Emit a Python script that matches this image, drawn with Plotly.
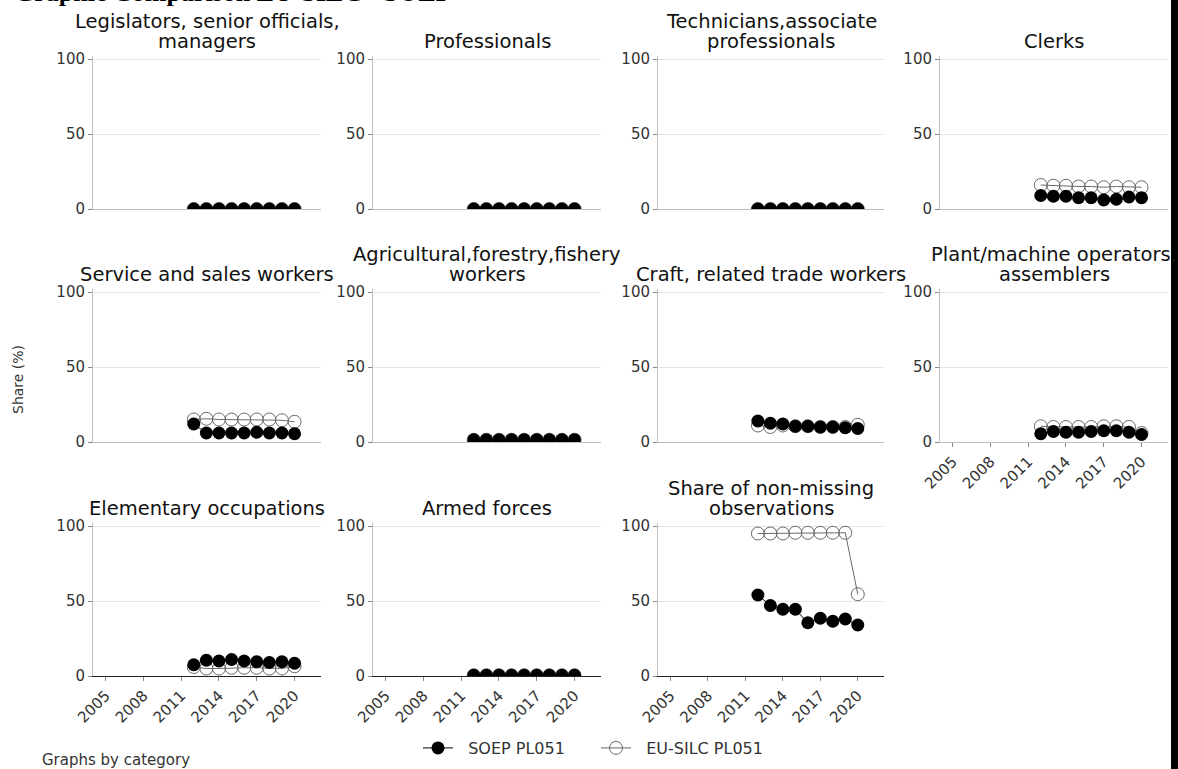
import plotly.graph_objects as go

W, H = 1178, 769

# ---- data (share in %) ----
YEARS = [2012, 2013, 2014, 2015, 2016, 2017, 2018, 2019, 2020]

TITLES = [
    "Legislators, senior officials,<br>managers", "Professionals",
    "Technicians,associate<br>professionals", "Clerks",
    "Service and sales workers", "Agricultural,forestry,fishery<br>workers",
    "Craft, related trade workers", "Plant/machine operators,<br>assemblers",
    "Elementary occupations", "Armed forces", "Share of non-missing<br>observations",
]

soep_legislators = [0, 0, 0, 0, 0, 0, 0, 0, 0]
silc_legislators = [0, 0, 0, 0, 0, 0, 0, 0, 0]
soep_professionals = [0, 0, 0, 0, 0, 0, 0, 0, 0]
silc_professionals = [0, 0, 0, 0, 0, 0, 0, 0, 0]
soep_technicians = [0, 0, 0, 0, 0, 0, 0, 0, 0]
silc_technicians = [0, 0, 0, 0, 0, 0, 0, 0, 0]
soep_clerks = [9, 8.5, 8.5, 7.5, 7.5, 6, 6.5, 8, 7.5]
silc_clerks = [16, 15.5, 15.5, 15, 15, 14.5, 15, 14.5, 14.5]
soep_service = [12, 6, 6, 6, 6, 6.5, 6, 6, 5.5]
silc_service = [15, 15.5, 15, 15, 15, 15, 15, 14.5, 13.5]
soep_agri = [1.5, 1.5, 1.5, 1.5, 1.5, 1.5, 1.5, 1.5, 1.5]
silc_agri = [1.5, 1.5, 1.5, 1.5, 1.5, 1.5, 1.5, 1.5, 1.5]
soep_craft = [14, 12.5, 12, 10.5, 10.5, 10, 10, 9.5, 9]
silc_craft = [11, 10, 11, 10.5, 10.5, 10, 10, 10, 11.5]
soep_plant = [5.5, 7, 6.5, 6.5, 7, 7.5, 7.5, 6.5, 5]
silc_plant = [10.5, 10, 10, 10, 10, 10.5, 10.5, 10, 6]
soep_elementary = [7.5, 10.5, 10, 11, 10, 9.5, 9, 9.5, 8.5]
silc_elementary = [6, 5, 5, 5.5, 5.5, 5.5, 5, 5, 6.5]
soep_armed = [0.5, 0.5, 0.5, 0.5, 0.5, 0.5, 0.5, 0.5, 0.5]
silc_armed = [0.5, 0.5, 0.5, 0.5, 0.5, 0.5, 0.5, 0.5, 0.5]
soep_share = [54, 47, 44.5, 44.5, 35.5, 38.5, 36.5, 38, 34]
silc_share = [95, 95, 95, 95.5, 95.5, 95.5, 95.5, 95.5, 54.5]

SOEP = [soep_legislators, soep_professionals, soep_technicians, soep_clerks,
        soep_service, soep_agri, soep_craft, soep_plant,
        soep_elementary, soep_armed, soep_share]
SILC = [silc_legislators, silc_professionals, silc_technicians, silc_clerks,
        silc_service, silc_agri, silc_craft, silc_plant,
        silc_elementary, silc_armed, silc_share]

XTICKS = [2005, 2008, 2011, 2014, 2017, 2020]

# ---- layout geometry (pixels) ----
COL_X = [(93, 321), (373, 601), (658, 884), (940, 1168)]
ROW_Y0 = [209, 442, 676]          # pixel of y = 0
PX_PER_UNIT = 1.5
YMAX = 102
LINE_GAP = 20                     # subtitle line spacing

GRID = "#e4e4e4"; AXIS = "#bdbdbd"; DARK = "#222222"; TXT = "#333333"
FONT = "DejaVu Sans, Verdana, sans-serif"
NB = "\u00a0\u00a0"

fig = go.Figure()
layout = {}
annotations = []

for i, title in enumerate(TITLES):
    r, c = divmod(i, 4)
    n = i + 1
    xa = "x" if n == 1 else f"x{n}"
    ya = "y" if n == 1 else f"y{n}"
    bottom_row = (r == 2) or (i == 7)
    x0, x1 = COL_X[c]
    y0 = ROW_Y0[r]
    ytop = y0 - YMAX * PX_PER_UNIT
    layout["xaxis" if n == 1 else f"xaxis{n}"] = dict(
        domain=[x0 / W, x1 / W], anchor=ya, range=[2004, 2022.1], automargin=False,
        tickvals=XTICKS, tickangle=-45, showticklabels=bottom_row,
        ticks="outside" if bottom_row else "", ticklen=4, tickcolor="#888",
        tickfont=dict(size=15, color=TXT), showgrid=False, zeroline=False,
        showline=True, linecolor=DARK if r == 2 else AXIS, linewidth=1)
    layout["yaxis" if n == 1 else f"yaxis{n}"] = dict(
        domain=[(H - y0) / H, (H - ytop) / H], anchor=xa, range=[0, YMAX], automargin=False,
        tickvals=[0, 50, 100], ticks="outside", ticklen=4, tickcolor="#888",
        tickfont=dict(size=15, color=TXT), showgrid=True, gridcolor=GRID,
        zeroline=False, showline=True, linecolor=AXIS, linewidth=1)

    fig.add_scatter(x=YEARS, y=SILC[i], xaxis=xa, yaxis=ya, mode="lines+markers",
                    name=NB + "EU-SILC PL051", legendrank=2, showlegend=(i == 0),
                    line=dict(color="#6a6a6a", width=1),
                    marker=dict(symbol="circle-open", size=13, color="#6a6a6a",
                                line=dict(width=1)))
    fig.add_scatter(x=YEARS, y=SOEP[i], xaxis=xa, yaxis=ya, mode="lines+markers",
                    name=NB + "SOEP PL051", legendrank=1, showlegend=(i == 0),
                    line=dict(color="black", width=1),
                    marker=dict(symbol="circle", size=13, color="black"))

    # subtitle, one annotation per line so the line spacing can be tight
    lines = title.split("<br>")
    last_bottom = y0 - 100 * PX_PER_UNIT - 4
    for k, txt in enumerate(lines):
        yb = last_bottom - (len(lines) - 1 - k) * LINE_GAP
        annotations.append(dict(text=txt, x=(x0 + x1) / 2 / W, y=(H - yb) / H,
                                xref="paper", yref="paper", xanchor="center", yanchor="bottom",
                                showarrow=False, font=dict(size=19.5, color="#111")))

annotations += [
    dict(text="<b>Graphic Comparison EU-SILC - SOEP</b>", x=12 / W, y=(H - 9) / H,
         xref="paper", yref="paper", xanchor="left", yanchor="bottom", showarrow=False,
         font=dict(family="Liberation Serif, Times New Roman, serif", size=26, color="black")),
    dict(text="Share (%)", x=18 / W, y=(H - 380) / H, xref="paper", yref="paper",
         xanchor="center", yanchor="middle",
         textangle=-90, showarrow=False, font=dict(size=14, color=TXT)),
    dict(text="Graphs by category", x=40 / W, y=(H - 760) / H, xref="paper", yref="paper",
         xanchor="left", yanchor="middle", showarrow=False, font=dict(size=15, color=TXT)),
]

fig.update_layout(
    template="none",
    width=W, height=H, margin=dict(l=0, r=0, t=0, b=0, autoexpand=False),
    paper_bgcolor="white", plot_bgcolor="white",
    font=dict(family=FONT, color=TXT),
    showlegend=True,
    legend=dict(orientation="h", x=596 / W, xanchor="center", y=(H - 748) / H, yanchor="middle",
                entrywidth=133, font=dict(size=16, color=TXT), bgcolor="rgba(0,0,0,0)"),
    annotations=annotations,
    shapes=[dict(type="rect", xref="paper", yref="paper", x0=1171 / W, x1=1.0, y0=0, y1=1,
                 fillcolor="black", line=dict(width=0), layer="above")],
    **layout,
)

# the page body has a default margin; drop it so the figure fills the window
fig.write_html("out.html", config={"displayModeBar": False},
               post_script="document.body.style.margin='0';")
